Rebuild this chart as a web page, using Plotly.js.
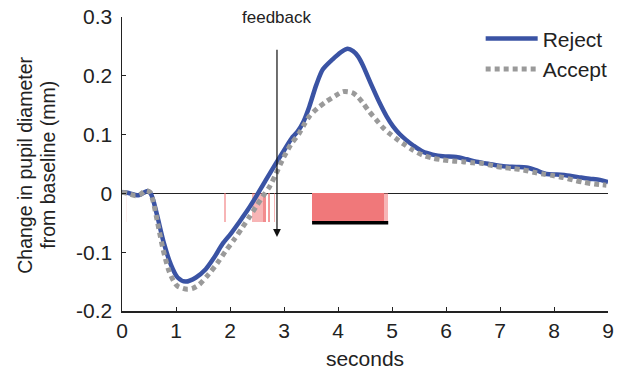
<!DOCTYPE html>
<html>
<head>
<meta charset="utf-8">
<script src="https://cdn.plot.ly/plotly-3.0.1.min.js"></script>
<style>html,body{margin:0;padding:0;background:#fff;}#chart{width:619px;height:374px;}</style>
</head>
<body>
<div id="chart"></div>
<script>
// Reject (blue) trace
const rejectT = [0.00,0.10,0.22,0.32,0.40,0.47,0.53,0.58,0.66,0.78,0.90,1.03,1.18,1.37,1.55,1.70,1.86,2.02,2.17,2.33,2.48,2.66,2.85,3.00,3.16,3.25,3.36,3.47,3.60,3.72,3.90,4.05,4.18,4.28,4.37,4.46,4.55,4.66,4.77,4.90,5.02,5.14,5.26,5.40,5.57,5.75,5.94,6.19,6.38,6.56,6.80,7.06,7.30,7.49,7.65,7.86,8.05,8.29,8.50,8.66,8.85,9.00];
const rejectV = [0.002,0.001,-0.002,-0.003,0.001,0.004,0.000,-0.012,-0.041,-0.086,-0.120,-0.143,-0.150,-0.143,-0.129,-0.110,-0.086,-0.068,-0.049,-0.028,-0.006,0.022,0.051,0.073,0.096,0.105,0.122,0.148,0.185,0.211,0.228,0.240,0.246,0.242,0.233,0.218,0.199,0.176,0.154,0.131,0.114,0.101,0.091,0.081,0.071,0.066,0.063,0.062,0.058,0.054,0.050,0.046,0.045,0.044,0.040,0.033,0.032,0.030,0.027,0.025,0.023,0.019];
// Accept (grey) trace
const acceptT = [0.00,0.10,0.25,0.35,0.44,0.52,0.58,0.66,0.76,0.87,0.95,1.03,1.21,1.32,1.43,1.61,1.77,1.92,2.08,2.23,2.36,2.48,2.60,2.73,2.85,2.97,3.12,3.28,3.38,3.47,3.62,3.78,3.95,4.09,4.18,4.27,4.37,4.46,4.58,4.71,4.83,4.95,5.08,5.20,5.38,5.57,5.75,5.94,6.12,6.31,6.50,6.68,6.87,7.06,7.25,7.43,7.62,7.80,8.00,8.17,8.35,8.54,8.75,8.97];
const acceptV = [0.002,0.000,-0.004,-0.001,0.005,0.002,-0.015,-0.050,-0.095,-0.132,-0.148,-0.158,-0.163,-0.161,-0.155,-0.137,-0.118,-0.098,-0.078,-0.058,-0.040,-0.023,-0.006,0.011,0.033,0.057,0.082,0.102,0.118,0.131,0.145,0.156,0.166,0.173,0.173,0.171,0.164,0.154,0.139,0.125,0.112,0.102,0.093,0.085,0.074,0.065,0.060,0.057,0.055,0.054,0.052,0.051,0.047,0.044,0.042,0.040,0.036,0.033,0.030,0.027,0.023,0.019,0.016,0.014];
// Significance windows (pink): start, end, strength
const sigStart = [0.07, 1.89, 2.40, 2.62, 2.70, 2.81, 3.52, 4.86];
const sigEnd   = [0.10, 1.93, 2.62, 2.66, 2.74, 2.84, 4.86, 4.93];
const sigAlpha = [0.12, 0.55, 0.55, 0.85, 0.75, 0.55, 1.0, 0.55];
const sigDepth = -0.049;
// Cluster-corrected significant window (black bar)
const clusterStart = 3.52, clusterEnd = 4.93, clusterY = -0.05;
// Feedback marker
const feedbackT = 2.87, feedbackTop = 0.247, feedbackBottom = -0.074;
const xTicks = [0,1,2,3,4,5,6,7,8,9];
const yTicks = [-0.2,-0.1,0,0.1,0.2,0.3];
const yTickText = ['-0.2','-0.1','0','0.1','0.2','0.3'];
const yTitleLines = ['Change in pupil diameter', 'from baseline (mm)'];

const traces = [];
for (let i = 0; i < sigStart.length; i++) {
  traces.push({
    type: 'bar',
    x: [(sigStart[i] + sigEnd[i]) / 2],
    y: [sigDepth],
    base: 0,
    width: [sigEnd[i] - sigStart[i]],
    marker: {color: 'rgba(240,120,122,' + sigAlpha[i] + ')', line: {width: 0}},
    showlegend: false,
    hoverinfo: 'skip'
  });
}
traces.push({
  type: 'scatter', mode: 'lines',
  x: [clusterStart, clusterEnd], y: [clusterY, clusterY],
  line: {color: '#000', width: 3.5},
  showlegend: false, hoverinfo: 'skip'
});
traces.push({
  type: 'scatter', mode: 'lines', name: 'Reject',
  x: rejectT, y: rejectV,
  line: {color: '#3a53a4', width: 4.5, shape: 'spline', smoothing: 0.8}
});
traces.push({
  type: 'scatter', mode: 'lines', name: 'Accept',
  x: acceptT, y: acceptV,
  line: {color: '#9a9a9a', width: 5, dash: '5px,4px', shape: 'spline', smoothing: 0.8}
});

const fam = 'Liberation Sans, Arial, sans-serif';
const font = {family: fam, size: 21, color: '#222'};
const titleFont = {family: fam, size: 19.5, color: '#222'};
const layout = {
  width: 619, height: 374,
  margin: {l: 122, r: 11, t: 17, b: 63, autoexpand: false},
  paper_bgcolor: '#fff', plot_bgcolor: '#fff',
  font: font,
  barmode: 'overlay',
  bargap: 0,
  xaxis: {
    range: [0, 9], tickvals: xTicks, ticktext: xTicks.map(String),
    ticks: 'inside', ticklen: 4, tickcolor: '#222',
    showline: true, linecolor: '#222', linewidth: 1.5,
    showgrid: false, zeroline: false,
    title: {text: 'seconds', font: font, standoff: 10},
    tickfont: font
  },
  yaxis: {
    range: [-0.2, 0.3], tickvals: yTicks, ticktext: yTickText,
    ticks: 'inside', ticklen: 4, tickcolor: '#222',
    showline: true, linecolor: '#222', linewidth: 1.5,
    showgrid: false,
    zeroline: true, zerolinecolor: '#222', zerolinewidth: 1.5,
    ticklabelstandoff: 4,
    tickfont: font
  },
  legend: {
    x: 0.738, y: 0.995, xanchor: 'left', yanchor: 'top',
    bgcolor: 'rgba(0,0,0,0)', font: font, tracegroupgap: 0,
    itemwidth: 52
  },
  annotations: [
    {
      x: feedbackT, y: feedbackBottom, ax: feedbackT, ay: feedbackTop,
      xref: 'x', yref: 'y', axref: 'x', ayref: 'y',
      text: '', showarrow: true, arrowhead: 2, arrowsize: 1.3, arrowwidth: 1.2, arrowcolor: '#111'
    },
    {
      x: feedbackT, y: 0.3, xref: 'x', yref: 'y', text: 'feedback',
      showarrow: false, yanchor: 'middle', font: {family: fam, size: 17, color: '#222'}
    },
    {
      x: -0.2, y: 0.4966, xref: 'paper', yref: 'paper', text: yTitleLines[0],
      textangle: -90, showarrow: false, xanchor: 'center', yanchor: 'middle', font: titleFont
    },
    {
      x: -0.153, y: 0.4966, xref: 'paper', yref: 'paper', text: yTitleLines[1],
      textangle: -90, showarrow: false, xanchor: 'center', yanchor: 'middle', font: titleFont
    }
  ]
};
Plotly.newPlot('chart', traces, layout, {staticPlot: true});
</script>
</body>
</html>
